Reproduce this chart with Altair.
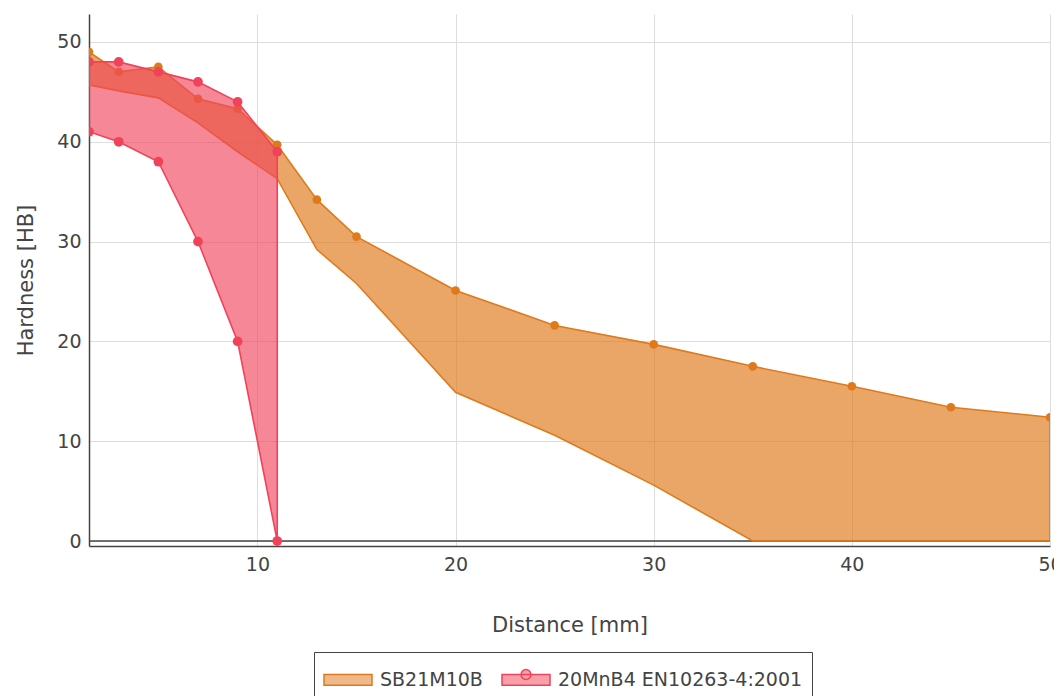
import altair as alt
import pandas as pd

# ---- data ----
series_names = ["SB21M10B", "20MnB4 EN10263-4:2001"]

orange_x = [1.5, 3, 5, 7, 9, 11, 13, 15, 20, 25, 30, 35, 40, 45, 50]
orange_hi = [49.0, 47.0, 47.5, 44.3, 43.3, 39.7, 34.2, 30.5, 25.1, 21.6, 19.7, 17.5, 15.5, 13.4, 12.4]
orange_lo = [45.7, 45.1, 44.4, 41.9, 39.0, 36.3, 29.2, 25.8, 14.9, 10.6, 5.6, 0, 0, 0, 0]

red_x = [1.5, 3, 5, 7, 9, 11]
red_hi = [48, 48, 47, 46, 44, 39]
red_lo = [41, 40, 38, 30, 20, 0]

x_ticks = [10, 20, 30, 40, 50]
y_ticks = [0, 10, 20, 30, 40, 50]

ORANGE = "#DF7A1C"
RED = "#F0435A"
FONT = "DejaVu Sans"

# ---- tables ----
def band(xs, hi, lo):
    return pd.DataFrame({"x": xs, "hi": hi, "lo": lo})

def outline(xs, hi, lo):
    px = list(xs) + list(reversed(xs))
    py = list(hi) + list(reversed(lo))
    return pd.DataFrame({"x": px, "y": py, "o": list(range(len(px)))})

o_band = band(orange_x, orange_hi, orange_lo)
r_band = band(red_x, red_hi, red_lo)
o_line = outline(orange_x, orange_hi, orange_lo)
r_line = outline(red_x, red_hi, red_lo)
o_pts = pd.DataFrame({"x": orange_x, "y": orange_hi})
r_pts = pd.DataFrame({"x": red_x + red_x, "y": red_hi + red_lo})
legend_df = pd.DataFrame({"series": series_names, "x": [orange_x[0], red_x[0]], "y": [orange_hi[0], red_hi[0]]})

xs = alt.Scale(domain=[1.5, 50], nice=False, zero=False)
ys = alt.Scale(domain=[-0.5, 52.8], nice=False, zero=False)

x_axis = alt.Axis(values=x_ticks, title="Distance [mm]", grid=True, ticks=False,
                  labelFontSize=19, titleFontSize=21, labelPadding=9, titlePadding=40,
                  labelFlush=False, labelOverlap=False,
                  labelFont=FONT, titleFont=FONT, labelColor="#444", titleColor="#444",
                  titleFontWeight="normal", domainColor="#444", domainWidth=1.5,
                  gridColor="#dddddd", gridWidth=1)
y_axis = alt.Axis(values=y_ticks, title="Hardness [HB]", grid=True, ticks=False,
                  labelFontSize=19, titleFontSize=21, labelPadding=8, titlePadding=20,
                  labelFlush=False, labelOverlap=False,
                  labelFont=FONT, titleFont=FONT, labelColor="#444", titleColor="#444",
                  titleFontWeight="normal", domainColor="#444", domainWidth=1.5,
                  gridColor="#dddddd", gridWidth=1)

X = alt.X("x:Q", scale=xs, axis=x_axis)
Y = alt.Y("y:Q", scale=ys, axis=y_axis)

zero = alt.Chart(pd.DataFrame({"v": [0]})).mark_rule(color="#444", strokeWidth=1.5).encode(
    y=alt.Y("v:Q", scale=ys, axis=y_axis))

o_area = alt.Chart(o_band).mark_area(color=ORANGE, opacity=0.67, clip=True).encode(
    x=alt.X("x:Q", scale=xs, axis=x_axis), y=alt.Y("hi:Q", scale=ys, axis=y_axis), y2="lo:Q")
o_out = alt.Chart(o_line).mark_line(color=ORANGE, strokeWidth=1.6, clip=True).encode(
    x=X, y=Y, order="o:Q")
o_dot = alt.Chart(o_pts).mark_circle(color=ORANGE, size=75, opacity=1, clip=True).encode(x=X, y=Y)

r_area = alt.Chart(r_band).mark_area(color=RED, opacity=0.64, clip=True).encode(
    x=alt.X("x:Q", scale=xs, axis=x_axis), y=alt.Y("hi:Q", scale=ys, axis=y_axis), y2="lo:Q")
r_out = alt.Chart(r_line).mark_line(color=RED, strokeWidth=1.6, clip=True).encode(
    x=X, y=Y, order="o:Q")
r_dot = alt.Chart(r_pts).mark_circle(color=RED, size=95, opacity=1, clip=True).encode(x=X, y=Y)

# legend swatches (unit = half of a 35px symbol box; swatch spans 48px)
rect = "M-1,-0.3H1.743V0.32H-1Z"
rect_dot = ("M-1,-0.3H1.743V0.32H-1Z "
            "M0.09,-0.3A0.28,0.28 0 1,1 0.65,-0.3A0.28,0.28 0 1,1 0.09,-0.3Z")

leg = alt.Legend(title=None, orient="none", legendX=225, legendY=638, direction="horizontal",
                 columns=2, labelFontSize=19, labelFont=FONT, labelColor="#444", labelLimit=500,
                 symbolSize=1225, symbolStrokeWidth=1.5, symbolOpacity=1,
                 labelOffset=20, columnPadding=16, padding=9,
                 strokeColor="#444", fillColor="white")

legend_layer = alt.Chart(legend_df).mark_point(opacity=0, filled=True).encode(
    x=X, y=Y,
    fill=alt.Fill("series:N", scale=alt.Scale(domain=series_names, range=["#EFB98A", "#F7A0AA"]), legend=leg),
    stroke=alt.Stroke("series:N", scale=alt.Scale(domain=series_names, range=[ORANGE, RED]), legend=leg),
    shape=alt.Shape("series:N", scale=alt.Scale(domain=series_names, range=[rect, rect_dot]), legend=leg),
)

chart = alt.layer(zero, o_area, o_out, o_dot, r_area, r_out, r_dot, legend_layer).properties(
    width=961, height=532,
    padding={"left": 81, "top": 6, "right": 4, "bottom": 152},
    autosize=alt.AutoSizeParams(type="none"),
).configure(font=FONT).configure_view(strokeWidth=0, stroke="transparent")

chart.save("out.html", embed_options={"renderer": "svg", "actions": False})
